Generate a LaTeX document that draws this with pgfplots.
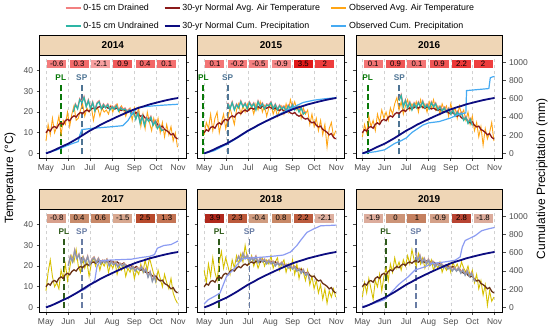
\documentclass[border=0pt]{standalone}
\usepackage{pgfplots}
\pgfplotsset{compat=1.18}
\usepackage{pgfplotstable}
\usepackage{fontspec}
\setmainfont{Liberation Sans}
\setsansfont{Liberation Sans}

\definecolor{obsTA}{HTML}{FFA515}
\definecolor{normTA}{HTML}{8B1A1A}
\definecolor{drA}{HTML}{F28080}
\definecolor{unA}{HTML}{2DB5A5}
\definecolor{obsPA}{HTML}{45AAF2}
\definecolor{plA}{HTML}{087808}
\definecolor{spA}{HTML}{4E7494}
\definecolor{obsTB}{HTML}{D6C000}
\definecolor{normTB}{HTML}{6A3216}
\definecolor{drB}{HTML}{D89A90}
\definecolor{unB}{HTML}{8A98B0}
\definecolor{obsPB}{HTML}{8C9CF2}
\definecolor{plB}{HTML}{2E5A1A}
\definecolor{spB}{HTML}{687CA4}
\definecolor{normP}{HTML}{0C0C80}
\definecolor{strip}{HTML}{EFD6B6}
\definecolor{tickc}{HTML}{4D4D4D}

\pgfplotsset{
 base/.style={scale only axis, width=146.6bp, height=103bp, xmin=112, xmax=316, anchor=south west, clip=false},
 tempax/.style={base, ymin=-2.2, ymax=47.6,
   xtick={121,152,182,213,244,274,305}, xticklabels={May,Jun,Jul,Aug,Sep,Oct,Nov},
   ytick={0,10,20,30,40}, yticklabels={0,10,20,30,40},
   xmajorgrids, major grid style={dashed, black!18, line width=0.5bp},
   tick align=outside, tick pos=left, major tick length=3bp,
   tick style={tickc, line width=0.6bp},
   axis line style={black, line width=0.7bp},
   ticklabel style={font=\fontsize{8.5}{10}\selectfont, text=tickc}},
 precax/.style={base, ymin=-50, ymax=1080.5, axis y line*=right, axis x line=none,
   ytick={0,200,400,600,800,1000}, yticklabels={0,200,400,600,800,1000},
   tick align=outside, major tick length=3bp, tick style={tickc, line width=0.6bp},
   axis line style={black, line width=0.7bp},
   ticklabel style={font=\fontsize{8.5}{10}\selectfont, text=tickc}},
 nolab/.style={yticklabels={}},
}

\newcommand{\bx}[4]{\definecolor{#4}{HTML}{#3}\node[fill=#4, inner sep=0pt, minimum width=19bp, minimum height=8.8bp, font=\fontsize{7.8}{8}\selectfont] at (axis cs:#1,43.2) {#2};}

% #1 x, #2 y, #3 row, #4 year, #5 temp opts, #6 prec opts, #7 T table, #8 soil table, #9 precip table
\newcommand{\panel}[9]{%
\begin{axis}[tempax, at={(#1bp,#2bp)}, #5]
\addplot[pl#3, line width=1.8bp, dash pattern=on 6bp off 3bp] coordinates {(\plday,-0.5) (\plday,33)};
\addplot[sp#3, line width=1.8bp, dash pattern=on 6bp off 3bp] coordinates {(\spday,-0.5) (\spday,33)};
\addplot[obsT#3, line width=0.9bp] table[x=d,y=t] {#7};
\addplot[normT#3, line width=1.3bp] table[x=d,y=t] {\normT};
\addplot[dr#3, line width=1.2bp] table[x=d,y=dr] {#8};
\addplot[un#3, line width=1.2bp] table[x=d,y=un] {#8};
\node[text=pl#3, font=\fontsize{8.3}{10}\selectfont\bfseries] at (axis cs:\plday,36.6) {PL};
\node[text=sp#3, font=\fontsize{8.3}{10}\selectfont\bfseries] at (axis cs:\spday,36.6) {SP};
\panelboxes
\end{axis}
\begin{axis}[precax, at={(#1bp,#2bp)}, #6]
\addplot[obsP#3, line width=1.2bp] table[x=d,y=p] {#9};
\addplot[normP, line width=1.8bp] table[x=d,y=p] {\normP};
\end{axis}
\draw[fill=strip, line width=0.7bp] (#1bp,{#2bp+103bp}) rectangle ++(146.6bp,19.5bp);
\node[font=\fontsize{10}{11}\selectfont\bfseries] at ({#1bp+73.3bp},{#2bp+112.75bp}) {#4};
}

\begin{document}

\pgfplotstableread[row sep=\\]{d t\\121 10.0\\124 11.5\\127 10.8\\130 12.6\\133 13.0\\136 12.2\\139 14.1\\142 14.8\\145 14.0\\148 15.9\\151 16.5\\154 15.8\\157 17.4\\160 18.2\\163 17.6\\166 19.0\\169 19.8\\172 19.2\\175 20.4\\178 21.0\\181 20.3\\184 21.5\\187 22.0\\190 21.4\\193 22.3\\196 22.6\\199 21.9\\202 22.8\\205 22.4\\208 21.8\\211 22.6\\214 22.1\\217 21.5\\220 22.0\\223 21.2\\226 20.8\\229 21.4\\232 20.5\\235 20.0\\238 20.6\\241 19.6\\244 19.2\\247 19.8\\250 18.6\\253 18.0\\256 18.5\\259 17.2\\262 16.6\\265 17.0\\268 15.6\\271 14.8\\274 15.2\\277 13.6\\280 12.8\\283 13.2\\286 11.6\\289 11.0\\292 10.2\\295 9.0\\298 9.6\\301 7.8\\304 7.0\\}\normT

\pgfplotstableread[row sep=\\]{d p\\121 0\\128 20\\135 45\\142 72\\152 107\\159 138\\166 170\\174 210\\182 250\\190 283\\197 315\\205 346\\213 376\\220 402\\228 430\\236 458\\244 484\\251 503\\259 522\\266 540\\274 556\\281 570\\289 585\\297 598\\305 609\\}\normP

% ---- 2014
\pgfplotstableread[row sep=\\]{d t\\121 6\\124 14\\127 9\\130 17\\133 10\\136 13\\139 18\\142 9\\145 16\\148 14\\151 20\\154 13\\157 19\\160 23\\163 16\\166 17\\169 21\\172 24\\175 18\\178 22\\181 20\\184 23\\187 16\\190 21\\193 22\\196 18\\199 22\\202 20\\205 21\\208 19\\211 23\\214 20\\217 23\\220 24\\223 20\\226 23\\229 21\\232 18\\235 21\\238 22\\241 16\\244 22\\247 18\\250 22\\253 13\\256 19\\259 12\\262 20\\265 15\\268 11\\271 17\\274 13\\277 17\\280 10\\283 15\\286 8\\289 14\\292 9\\295 13\\298 6\\301 10\\304 3\\}\obsTa
\pgfplotstableread[row sep=\\]{d dr un\\159 20.5 20\\162 24 23.5\\165 22 21.5\\168 26.5 26\\171 25 24.5\\174 27.5 27\\177 23 22.5\\180 26 25.5\\183 22 21.5\\186 25 24.5\\189 21 20.5\\192 24.5 24\\195 25.5 25\\198 22 21.5\\201 24 23.5\\204 22.5 22\\207 24 23.5\\210 21.5 21\\213 23 22.5\\216 22 21.5\\219 23.5 23\\222 21 20.5\\225 22.5 22\\228 21.5 21\\231 22 21.5\\234 20.5 20\\237 21.5 21\\240 19 18.5\\243 20.5 20\\246 17 16.5\\249 20 19.5\\252 15 14.5\\255 18.5 18\\258 14 13.5\\261 17.5 17\\264 16 15.5\\267 18 17.5\\270 14 13.5\\273 16 15.5\\276 12.5 12\\279 14 13.5\\282 11.5 11\\285 12 11.5\\}\soila
\pgfplotstableread[row sep=\\]{d p\\121 5\\135 35\\150 85\\160 115\\166 130\\168 200\\171 262\\185 275\\200 285\\215 295\\228 305\\235 360\\242 450\\248 500\\260 515\\275 525\\290 533\\305 540\\}\precipa

% ---- 2015
\pgfplotstableread[row sep=\\]{d t\\121 9\\124 15\\127 12\\130 19\\133 11\\136 17\\139 20\\142 10\\145 15\\148 19\\151 12\\154 17\\157 22\\160 18\\163 14\\166 21\\169 24\\172 19\\175 23\\178 20\\181 24\\184 21\\187 23\\190 19\\193 24\\196 21\\199 25\\202 20\\205 23\\208 18\\211 22\\214 24\\217 19\\220 22\\223 18\\226 21\\229 23\\232 19\\235 24\\238 20\\241 26\\244 22\\247 25\\250 21\\253 23\\256 17\\259 22\\262 19\\265 21\\268 14\\271 19\\274 13\\277 17\\280 11\\283 16\\286 9\\289 14\\292 3\\295 12\\298 15\\301 8\\304 11\\}\obsTb
\pgfplotstableread[row sep=\\]{d dr un\\154 24.5 24\\157 22 21.5\\160 25 24.5\\163 21.5 21\\166 24 23.5\\169 22.5 22\\172 25.5 25\\175 23 22.5\\178 24.5 24\\181 22 21.5\\184 25 24.5\\187 23 22.5\\190 24.5 24\\193 21.5 21\\196 25.5 25\\199 23 22.5\\202 24.5 24\\205 22 21.5\\208 24 23.5\\211 23.5 23\\214 25 24.5\\217 22 21.5\\220 24 23.5\\223 21.5 21\\226 23.5 23\\229 22 21.5\\232 23 22.5\\235 21 20.5\\238 23.5 23\\241 22 21.5\\244 24 23.5\\247 21.5 21\\250 23 22.5\\253 20.5 20\\256 22.5 22\\259 19.5 19\\262 20.5 20\\}\soilb
\pgfplotstableread[row sep=\\]{d p\\121 0\\135 30\\152 100\\166 165\\182 245\\197 310\\213 380\\228 440\\244 505\\259 560\\274 585\\289 600\\305 612\\}\precipb

% ---- 2016
\pgfplotstableread[row sep=\\]{d t\\121 8\\124 14\\127 10\\130 18\\133 13\\136 16\\139 11\\142 19\\145 15\\148 21\\151 17\\154 20\\157 16\\160 22\\163 19\\166 24\\169 27\\172 21\\175 25\\178 19\\181 23\\184 26\\187 21\\190 24\\193 22\\196 25\\199 20\\202 26\\205 22\\208 24\\211 20\\214 25\\217 22\\220 26\\223 21\\226 23\\229 19\\232 24\\235 21\\238 23\\241 18\\244 24\\247 20\\250 22\\253 17\\256 23\\259 19\\262 21\\265 16\\268 20\\271 14\\274 18\\277 11\\280 15\\283 8\\286 13\\289 4\\292 12\\295 7\\298 10\\301 15\\304 6\\}\obsTc
\pgfplotstableread[row sep=\\]{d dr un\\172 26 25.5\\175 28.5 28\\178 23 22.5\\181 26 25.5\\184 22.5 22\\187 25 24.5\\190 21.5 21\\193 24.5 24\\196 22.5 22\\199 25 24.5\\202 23 22.5\\205 25.5 25\\208 22.5 22\\211 24 23.5\\214 22 21.5\\217 25 24.5\\220 23 22.5\\223 24.5 24\\226 21.5 21\\229 23 22.5\\232 21 20.5\\235 22.5 22\\238 20.5 20\\241 22 21.5\\244 19.5 19\\247 21.5 21\\250 18.5 18\\253 20.5 20\\256 19 18.5\\259 20 19.5\\262 16.5 16\\265 18 17.5\\268 15 14.5\\271 17 16.5\\274 14 13.5\\}\soilc
\pgfplotstableread[row sep=\\]{d p\\121 0\\140 20\\152 40\\166 110\\175 140\\182 170\\190 230\\205 310\\213 335\\228 350\\244 390\\255 430\\265 445\\266 690\\280 700\\297 712\\299 830\\302 840\\305 845\\}\precipc

% ---- 2017
\pgfplotstableread[row sep=\\]{d t\\121 8\\124 17\\127 23\\130 15\\133 10\\136 12\\139 9\\142 18\\145 14\\148 21\\151 13\\154 19\\157 25\\160 22\\163 28\\166 20\\169 17\\172 24\\175 19\\178 22\\181 15\\184 21\\187 24\\190 20\\193 23\\196 18\\199 22\\202 20\\205 23\\208 17\\211 21\\214 19\\217 22\\220 16\\223 20\\226 18\\229 21\\232 15\\235 19\\238 17\\241 20\\244 14\\247 18\\250 16\\253 21\\256 17\\259 23\\262 18\\265 24\\268 20\\271 16\\274 12\\277 18\\280 14\\283 10\\286 16\\289 12\\292 9\\295 14\\298 7\\301 4\\304 2\\}\obsTd
\pgfplotstableread[row sep=\\]{d dr un\\152 20.5 20\\155 25 24.5\\158 22.5 22\\161 28 27.5\\164 24 23.5\\167 26 25.5\\170 21.5 21\\173 24.5 24\\176 22 21.5\\179 25 24.5\\182 21 20.5\\185 23.5 23\\188 24.5 24\\191 22 21.5\\194 24 23.5\\197 21.5 21\\200 23 22.5\\203 22 21.5\\206 23.5 23\\209 20.5 20\\212 22.5 22\\215 21 20.5\\218 22 21.5\\221 20 19.5\\224 21.5 21\\227 20.5 20\\230 21.5 21\\233 19.5 19\\236 20.5 20\\239 19 18.5\\242 20 19.5\\245 18 17.5\\248 19.5 19\\251 18.5 18\\254 20 19.5\\257 17.5 17\\260 19 18.5\\263 15 14.5\\266 17.5 17\\269 13 12.5\\272 15.5 15\\274 12.5 12\\}\soild
\pgfplotstableread[row sep=\\]{d p\\121 5\\135 40\\152 110\\166 170\\175 200\\185 260\\189 300\\192 450\\196 510\\210 520\\225 525\\240 530\\255 550\\265 560\\272 580\\276 650\\285 680\\295 690\\300 710\\305 730\\}\precipd

% ---- 2018
\pgfplotstableread[row sep=\\]{d t\\121 18\\124 12\\127 21\\130 15\\133 24\\136 17\\139 13\\142 22\\145 27\\148 19\\151 24\\154 20\\157 16\\160 23\\163 19\\166 25\\169 21\\172 26\\175 22\\178 30\\181 24\\184 21\\187 25\\190 20\\193 23\\196 19\\199 22\\202 24\\205 20\\208 23\\211 21\\214 25\\217 19\\220 22\\223 24\\226 18\\229 21\\232 23\\235 17\\238 21\\241 18\\244 23\\247 16\\250 21\\253 14\\256 19\\259 17\\262 13\\265 18\\268 11\\271 15\\274 9\\277 13\\280 7\\283 11\\286 4\\289 9\\292 2\\295 8\\298 5\\301 9\\304 5\\}\obsTe
\pgfplotstableread[row sep=\\]{d dr un\\166 22.5 22\\169 25 24.5\\172 23 22.5\\175 26.5 26\\178 24 23.5\\181 25.5 25\\184 22.5 22\\187 24.5 24\\190 23 22.5\\193 25 24.5\\196 22 21.5\\199 24 23.5\\202 22.5 22\\205 23.5 23\\208 21.5 21\\211 23 22.5\\214 21.5 21\\217 22.5 22\\220 20.5 20\\223 22 21.5\\226 21 20.5\\229 22 21.5\\232 20 19.5\\235 21 20.5\\238 19.5 19\\241 20.5 20\\244 19 18.5\\247 20 19.5\\250 18 17.5\\253 19 18.5\\256 17 16.5\\259 18.5 18\\262 16 15.5\\265 17 16.5\\268 13.5 13\\}\soile
\pgfplotstableread[row sep=\\]{d p\\121 40\\127 86\\135 120\\143 158\\152 338\\157 380\\161 410\\168 480\\175 536\\190 545\\205 554\\220 565\\231 575\\241 608\\250 680\\255 734\\264 824\\273 860\\283 896\\295 900\\305 904\\}\precipe

% ---- 2019
\pgfplotstableread[row sep=\\]{d t\\121 5\\124 12\\127 7\\130 14\\133 9\\136 4\\139 13\\142 10\\145 16\\148 8\\151 15\\154 19\\157 13\\160 21\\163 17\\166 24\\169 19\\172 22\\175 18\\178 23\\181 20\\184 25\\187 21\\190 28\\193 23\\196 20\\199 26\\202 21\\205 24\\208 19\\211 22\\214 20\\217 23\\220 18\\223 21\\226 19\\229 22\\232 17\\235 20\\238 18\\241 21\\244 17\\247 22\\250 19\\253 21\\256 18\\259 22\\262 19\\265 17\\268 20\\271 15\\274 18\\277 12\\280 16\\283 9\\286 13\\289 6\\292 11\\295 1\\298 8\\301 3\\304 5\\}\obsTf
\pgfplotstableread[row sep=\\]{d dr un\\195 26.5 26\\198 23 22.5\\201 25.5 25\\204 22 21.5\\207 24 23.5\\210 21.5 21\\213 23.5 23\\216 21 20.5\\219 22.5 22\\222 20 19.5\\225 21.5 21\\228 20.5 20\\231 21.5 21\\234 19.5 19\\237 20.5 20\\240 19 18.5\\243 20 19.5\\246 18 17.5\\249 19.5 19\\252 18 17.5\\255 19.5 19\\258 17 16.5\\261 18.5 18\\264 16 15.5\\267 18 17.5\\270 15.5 15\\273 17 16.5\\276 14 13.5\\278 13 12.5\\}\soilf
\pgfplotstableread[row sep=\\]{d p\\121 10\\135 40\\152 86\\171 248\\185 338\\194 410\\208 446\\218 482\\236 500\\250 518\\257 554\\260 662\\264 734\\278 788\\287 842\\295 860\\305 878\\}\precipf

\begin{tikzpicture}
\path[use as bounding box] (0,0) rectangle (550bp,331bp);

% 2014
\def\plday{141.6}\def\spday{170.8}
\def\panelboxes{\bx{136}{-0.6}{F47C7C}{ba1}\bx{167}{0.3}{F26A6A}{ba2}\bx{197}{-2.1}{F7A0A0}{ba3}\bx{228}{0.9}{F05A5A}{ba4}\bx{259}{0.4}{F26868}{ba5}\bx{289}{0.1}{F37070}{ba6}}
\panel{39.5}{173}{A}{2014}{}{nolab}{\obsTa}{\soila}{\precipa}

% 2015
\def\plday{119.8}\def\spday{153.8}
\def\panelboxes{\bx{136}{0.1}{F37575}{bb1}\bx{167}{-0.2}{F47A7A}{bb2}\bx{197}{-0.5}{F48080}{bb3}\bx{228}{-0.9}{F58888}{bb4}\bx{259}{3.5}{E01818}{bb5}\bx{289}{2}{EE3E3E}{bb6}}
\panel{197.7}{173}{A}{2015}{nolab}{nolab}{\obsTb}{\soilb}{\precipb}

% 2016
\def\plday{128.5}\def\spday{172.5}
\def\panelboxes{\bx{136}{0.1}{F37575}{bc1}\bx{167}{0.9}{EF5555}{bc2}\bx{197}{0.1}{F37575}{bc3}\bx{228}{0.9}{EF5555}{bc4}\bx{259}{2.2}{EC3838}{bc5}\bx{289}{2}{EE3E3E}{bc6}}
\panel{355.9}{173}{A}{2016}{nolab}{}{\obsTc}{\soilc}{\precipc}

% 2017
\def\plday{146}\def\spday{170.8}
\def\panelboxes{\bx{136}{-0.8}{D8A08C}{bd1}\bx{167}{0.4}{C88C6C}{bd2}\bx{197}{0.6}{C88868}{bd3}\bx{228}{-1.5}{D8A890}{bd4}\bx{259}{2.5}{B84A2C}{bd5}\bx{289}{1.3}{C47454}{bd6}}
\panel{39.5}{19}{B}{2017}{}{nolab}{\obsTd}{\soild}{\precipd}

% 2018
\def\plday{141.7}\def\spday{184}
\def\panelboxes{\bx{136}{3.9}{B0281C}{be1}\bx{167}{2.3}{BC5A3C}{be2}\bx{197}{-0.4}{D09C80}{be3}\bx{228}{0.8}{C88866}{be4}\bx{259}{2.2}{BC5C3E}{be5}\bx{289}{-2.1}{DEB0A0}{be6}}
\panel{197.7}{19}{B}{2018}{nolab}{nolab}{\obsTe}{\soile}{\precipe}

% 2019
\def\plday{153.5}\def\spday{195.4}
\def\panelboxes{\bx{136}{-1.9}{DCAC9C}{bf1}\bx{167}{0}{CC9478}{bf2}\bx{197}{1}{C48060}{bf3}\bx{228}{-0.9}{D4A088}{bf4}\bx{259}{2.8}{B84432}{bf5}\bx{289}{-1.8}{DCAC9C}{bf6}}
\panel{355.9}{19}{B}{2019}{nolab}{}{\obsTf}{\soilf}{\precipf}

% axis titles
\node[rotate=90, font=\fontsize{12}{14}\selectfont] at (10bp,153bp) {Temperature (°C)};
\node[rotate=90, font=\fontsize{12}{14}\selectfont] at (542bp,152bp) {Cumulative Precipitation (mm)};

% legend
\begin{axis}[hide axis, scale only axis, width=550bp, height=331bp, at={(0,0)}, anchor=south west,
  xmin=0, xmax=1, ymin=0, ymax=1,
  legend columns=3, legend cell align=left,
  legend style={draw=none, fill=none, at={(0.112,1.0)}, anchor=north west,
    font=\fontsize{8.9}{10.5}\selectfont, row sep=6bp,
    /tikz/column 2/.style={column sep=3bp},
    /tikz/column 4/.style={column sep=8.5bp}},
  legend image code/.code={\draw[#1, line width=1.6bp] (0bp,0bp) -- (15bp,0bp);}]
\addlegendimage{drA}\addlegendentry{0-15 cm Drained}
\addlegendimage{normTA}\addlegendentry{30-yr Normal Avg. Air Temperature}
\addlegendimage{obsTA}\addlegendentry{Observed Avg. Air Temperature}
\addlegendimage{unA}\addlegendentry{0-15 cm Undrained}
\addlegendimage{normP}\addlegendentry{30-yr Normal Cum. Precipitation}
\addlegendimage{obsPA}\addlegendentry{Observed Cum. Precipitation}
\end{axis}
\end{tikzpicture}
\end{document}
